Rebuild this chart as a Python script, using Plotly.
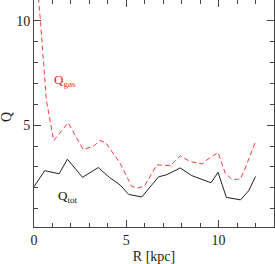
import plotly.graph_objects as go

# Q_tot (solid black)
r_tot = [0.0, 0.58, 1.36, 1.81, 2.63, 3.48, 4.08, 4.66, 5.13, 5.84, 6.74, 7.2, 7.92, 8.55, 9.59, 9.97, 10.42, 11.18, 11.63, 12.0]
q_tot = [2.05, 2.82, 2.67, 3.37, 2.5, 2.97, 2.5, 2.14, 1.68, 1.56, 2.52, 2.63, 2.95, 2.58, 2.24, 2.74, 1.54, 1.42, 1.86, 2.54]

# Q_gas (red dashed)
r_gas = [0.0, 0.35, 0.67, 1.07, 1.85, 2.66, 3.2, 3.57, 3.88, 4.66, 5.29, 5.65, 6.0, 6.65, 7.38, 7.92, 8.46, 9.1, 9.37, 9.97, 10.36, 10.73, 11.18, 11.45, 12.0]
q_gas = [13.4, 10.0, 6.2, 4.26, 5.12, 3.84, 3.98, 4.26, 4.17, 3.18, 2.07, 1.99, 2.1, 3.1, 3.06, 3.53, 3.26, 3.14, 3.34, 3.69, 2.7, 2.39, 2.42, 2.95, 4.22]

x_ticks = [0, 5, 10]
y_ticks = [5, 10]

FONT = "Liberation Serif"
AX = "#444444"

fig = go.Figure()
fig.add_trace(go.Scatter(x=r_gas, y=q_gas, mode="lines",
                         line=dict(color="#ff3b3b", width=1, dash="5px,3px")))
fig.add_trace(go.Scatter(x=r_tot, y=q_tot, mode="lines",
                         line=dict(color="#222222", width=1)))

fig.add_annotation(x=0.95, y=7.15, xref="x", yref="y", text="Q<sub>gas</sub>",
                   showarrow=False, xanchor="left", yanchor="middle",
                   font=dict(family=FONT, size=13, color="#ff2020"))
fig.add_annotation(x=1.2, y=1.6, xref="x", yref="y", text="Q<sub>tot</sub>",
                   showarrow=False, xanchor="left", yanchor="middle",
                   font=dict(family=FONT, size=13, color="#111111"))
# y-axis title
fig.add_annotation(x=0, y=0.485, xref="paper", yref="paper", text="Q",
                   showarrow=False, xanchor="center", yanchor="middle",
                   xshift=-27, textangle=-90,
                   font=dict(family=FONT, size=14, color="#222222"))

axis_common = dict(showgrid=False, zeroline=False, showline=True, linecolor=AX,
                   linewidth=1, mirror="allticks", ticks="inside", ticklen=7,
                   tickcolor=AX, tickwidth=1, automargin=False,
                   tickfont=dict(family=FONT, size=14, color="#222222"))

fig.update_xaxes(range=[0, 13], tickvals=x_ticks, ticktext=[str(v) for v in x_ticks],
                 minor=dict(dtick=1, tick0=0, ticks="inside", ticklen=4, tickcolor=AX),
                 title=dict(text="R [kpc]", font=dict(family=FONT, size=14, color="#222222"),
                            standoff=5),
                 **axis_common)
fig.update_yaxes(range=[0.12, 11], tickvals=y_ticks, ticktext=[str(v) for v in y_ticks],
                 minor=dict(dtick=1, tick0=0, ticks="inside", ticklen=4, tickcolor=AX),
                 **axis_common)

fig.update_layout(width=275, height=264, showlegend=False,
                  margin=dict(l=34, r=1, t=0, b=37, pad=0),
                  plot_bgcolor="white", paper_bgcolor="white")

fig.write_html("out.html", config={"displayModeBar": False},
               post_script="document.body.style.margin='0';document.body.style.overflow='hidden';")
